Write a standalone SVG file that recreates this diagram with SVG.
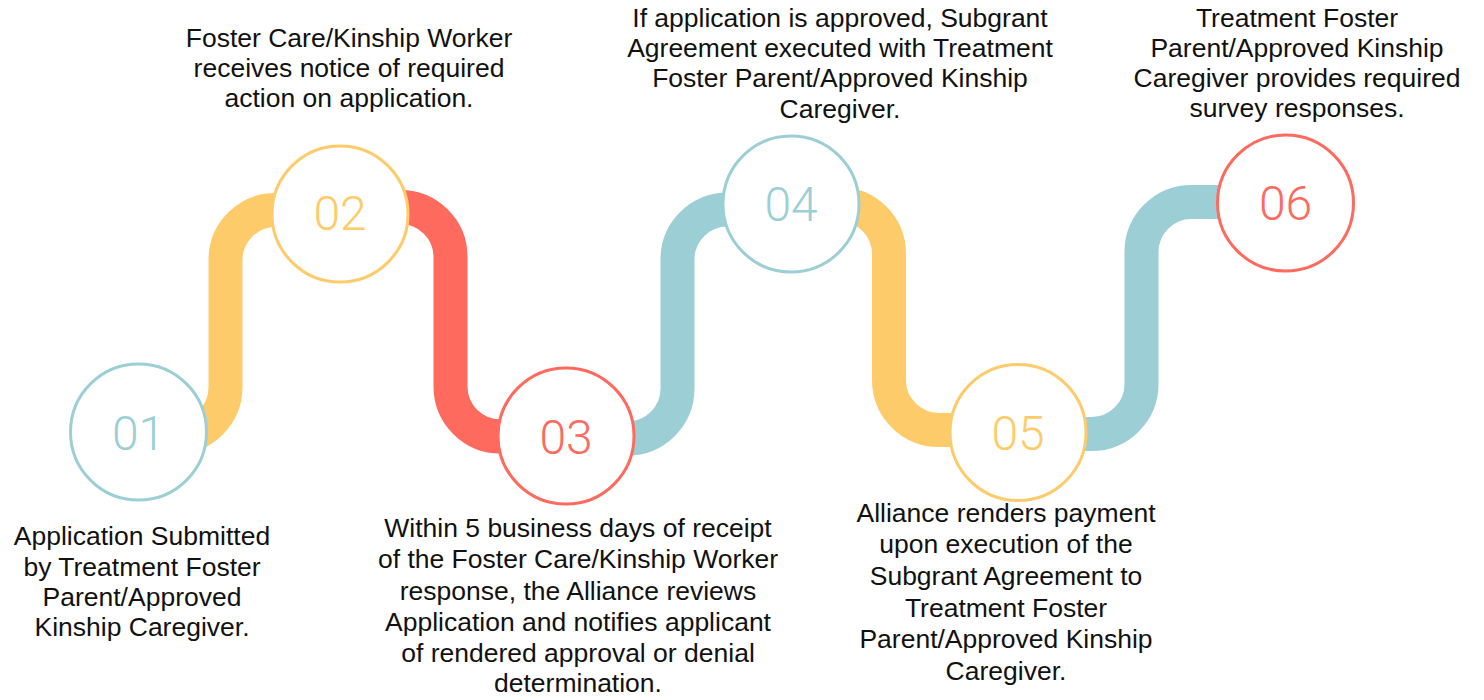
<svg xmlns="http://www.w3.org/2000/svg" width="1484" height="700" viewBox="0 0 1484 700">
  <style>
    .conn { fill: none; stroke-width: 34; }
    .teal { stroke: #9ccfd5; }
    .yellow { stroke: #fecb6a; }
    .red { stroke: #fe6a5e; }
    .node circle { fill: #ffffff; stroke-width: 3; }
    .num { font-family: Roboto, "Liberation Sans", Arial, sans-serif; font-weight: 300; font-size: 48px; text-anchor: middle; }
    .lbl { font-family: "Liberation Sans", Arial, Helvetica, sans-serif; font-size: 26.5px; fill: #111111; text-anchor: middle; }
  </style>
  <rect width="1484" height="700" fill="#ffffff"/>
  <g id="connectors">
    <path class="conn yellow" d="M138 437 H175.5 A50 50 0 0 0 225.5 387 V260 A50 50 0 0 1 275.5 210 H340"/>
    <path class="conn red" d="M340 207 H400.5 A50 50 0 0 1 450.5 257 V386.5 A50 50 0 0 0 500.5 436.5 H566"/>
    <path class="conn teal" d="M566 438.5 H627.5 A50 50 0 0 0 677.5 388.5 V259.5 A50 50 0 0 1 727.5 209.5 H791"/>
    <path class="conn yellow" d="M791 204 H839 A50 50 0 0 1 889 254 V380 A50 50 0 0 0 939 430 H1018"/>
    <path class="conn teal" d="M1018 434 H1091.5 A50 50 0 0 0 1141.5 384 V252 A50 50 0 0 1 1191.5 202 H1285"/>
  </g>
  <g id="node01" class="node">
    <circle cx="138.5" cy="432" r="68" stroke="#9ccfd5"/>
    <text class="num" x="138.5" y="450" fill="#9ccfd5">01</text>
    <text class="lbl" x="142" y="545">Application Submitted</text>
    <text class="lbl" x="142" y="576">by Treatment Foster</text>
    <text class="lbl" x="142" y="606">Parent/Approved</text>
    <text class="lbl" x="142" y="636">Kinship Caregiver.</text>
  </g>
  <g id="node02" class="node">
    <circle cx="340" cy="214" r="68" stroke="#fecb6a"/>
    <text class="num" x="340" y="230" fill="#fecb6a">02</text>
    <text class="lbl" x="349" y="47">Foster Care/Kinship Worker</text>
    <text class="lbl" x="349" y="77">receives notice of required</text>
    <text class="lbl" x="349" y="107">action on application.</text>
  </g>
  <g id="node03" class="node">
    <circle cx="566" cy="436" r="68" stroke="#fe6a5e"/>
    <text class="num" x="566" y="454" fill="#fe6a5e">03</text>
    <text class="lbl" x="578" y="537">Within 5 business days of receipt</text>
    <text class="lbl" x="578" y="568">of the Foster Care/Kinship Worker</text>
    <text class="lbl" x="578" y="600">response, the Alliance reviews</text>
    <text class="lbl" x="578" y="631">Application and notifies applicant</text>
    <text class="lbl" x="578" y="662">of rendered approval or denial</text>
    <text class="lbl" x="578" y="692">determination.</text>
  </g>
  <g id="node04" class="node">
    <circle cx="791" cy="204" r="68" stroke="#9ccfd5"/>
    <text class="num" x="791" y="221" fill="#9ccfd5">04</text>
    <text class="lbl" x="840" y="27">If application is approved, Subgrant</text>
    <text class="lbl" x="840" y="57">Agreement executed with Treatment</text>
    <text class="lbl" x="840" y="87">Foster Parent/Approved Kinship</text>
    <text class="lbl" x="840" y="118">Caregiver.</text>
  </g>
  <g id="node05" class="node">
    <circle cx="1018" cy="432.5" r="68" stroke="#fecb6a"/>
    <text class="num" x="1018" y="450" fill="#fecb6a">05</text>
    <text class="lbl" x="1006" y="522">Alliance renders payment</text>
    <text class="lbl" x="1006" y="553">upon execution of the</text>
    <text class="lbl" x="1006" y="585">Subgrant Agreement to</text>
    <text class="lbl" x="1006" y="617">Treatment Foster</text>
    <text class="lbl" x="1006" y="648">Parent/Approved Kinship</text>
    <text class="lbl" x="1006" y="680">Caregiver.</text>
  </g>
  <g id="node06" class="node">
    <circle cx="1285.5" cy="203" r="68" stroke="#fe6a5e"/>
    <text class="num" x="1285.5" y="220" fill="#fe6a5e">06</text>
    <text class="lbl" x="1297" y="27">Treatment Foster</text>
    <text class="lbl" x="1297" y="57">Parent/Approved Kinship</text>
    <text class="lbl" x="1297" y="87">Caregiver provides required</text>
    <text class="lbl" x="1297" y="117">survey responses.</text>
  </g>
</svg>
